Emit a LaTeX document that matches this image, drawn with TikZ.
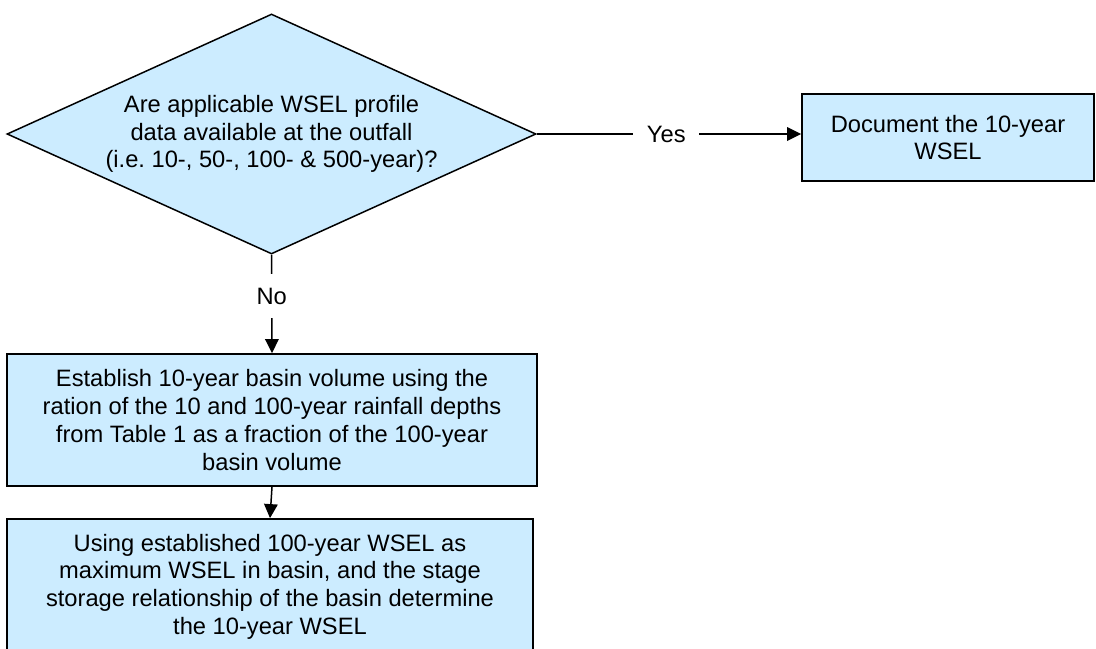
\documentclass[tikz,border=0pt]{standalone}
\usepackage{fontspec}
\setmainfont{Liberation Sans}
\usetikzlibrary{shapes.geometric, arrows.meta}
\definecolor{boxblue}{RGB}{204,236,255}
\frenchspacing
\begin{document}
\begin{tikzpicture}[x = .5pt, y = -.5pt, font = \fontsize{11.85}{13.85}\selectfont,
		box/.style = {draw, line width = .9pt, fill = boxblue, align = center, inner sep = 0pt},
		lbl/.style = {fill = white, inner xsep = 6.8pt, inner ysep = 7pt},
		>={Triangle[length = 7pt, width = 6.8pt]}]
						\useasboundingbox (0,0) rectangle (1096,648);
						\clip (0,0) rectangle (1096,648);
						\node[diamond, aspect = 2.2, draw, line width = .75pt, fill = boxblue, align = center, inner sep = 0pt, minimum width = 264.5pt, minimum height = 120pt] (avail) at (271.5,134) {Are applicable WSEL profile\\data available at the outfall\\(i.e. 10-, 50-, 100- \& 500-year)?};
						\node[box, minimum width = 146pt, minimum height = 43.5pt] (doc) at (948,137.5) {Document the 10-year\\WSEL};
						\node[box, minimum width = 265pt, minimum height = 66pt] (volume) at (272,420) {Establish 10-year basin volume using the\\ration of the 10 and 100-year rainfall depths\\from Table 1 as a fraction of the 100-year\\basin volume};
						\node[box, minimum width = 263pt, minimum height = 67.5pt] (wsel) at (270,586.5) {Using established 100-year WSEL as\\maximum WSEL in basin, and the stage\\storage relationship of the basin determine\\the 10-year WSEL};
						\draw[->, line width = .75pt] (avail.east) -- node[lbl, pos = .49] {Yes} (avail.east -| doc.west);
						\draw[->, line width = .75pt] (avail.south) -- node[lbl, pos = .42] {No} (volume.north);
						\draw[->, line width = .75pt] (volume.south) -- (wsel.north);
					\end{tikzpicture}
\end{document}
